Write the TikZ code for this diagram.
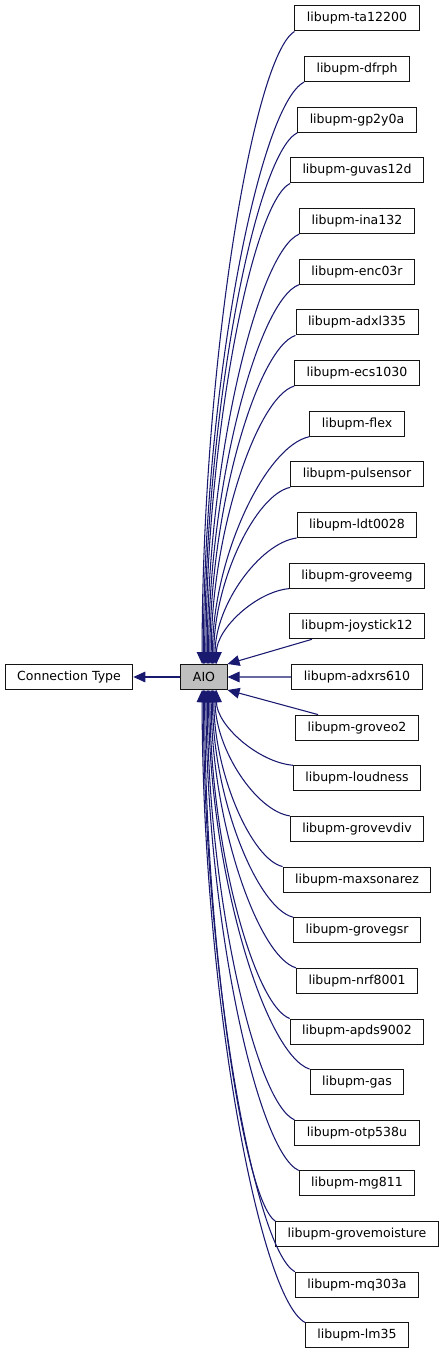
\documentclass[tikz,border=0pt]{standalone}
\usepackage{fontspec}
\setmainfont{DejaVu Sans}
\usepackage{tikz}
\usetikzlibrary{arrows.meta,calc}
\usepackage{xcolor}
\definecolor{depblue}{RGB}{25,25,112}
\definecolor{boxline}{RGB}{20,20,20}
\definecolor{basefill}{RGB}{191,191,191}
\def\libnames{ta12200,dfrph,gp2y0a,guvas12d,ina132,enc03r,adxl335,ecs1030,flex,
  pulsensor,ldt0028,groveemg,joystick12,adxrs610,groveo2,loudness,grovevdiv,
  maxsonarez,grovegsr,nrf8001,apds9002,gas,otp538u,mg811,grovemoisture,mq303a,lm35}
\tikzset{
  cls/.style={draw=boxline,fill=white,line width=.75pt,minimum height=18.75pt,
              inner xsep=9pt,inner ysep=0pt,font=\fontsize{9.4}{11}\selectfont},
  basecls/.style={cls,fill=basefill},
  dep/.style={-{Triangle[length=9pt,width=8pt]},draw=depblue,line width=.8pt},
}
\begin{document}
\begin{tikzpicture}[x=0.75pt,y=-0.75pt]
  \useasboundingbox (0,0) rectangle (443,1355);
  \node[basecls] (aio) at (204,677) {AIO};
  \node[cls] (conntype) at (69,677) {Connection Type};
  \draw[dep] (aio) -- (conntype);
  \foreach \lib [count=\i from 0] in \libnames {
    \node[cls] (\lib) at (357,{18.5+50.65*\i}) {libupm-\lib};
    % above: bend down into the top of AIO
    \ifnum\i<12
      \draw[dep] let \p1=(\lib.south west),
        \p2=($(aio.north)+({15-1.3*(13-\i)},0)$) in
        (\p1) .. controls ({\x1+0.45*(\x2-\x1)},{\y1+0.04*(\y2-\y1)})
        and (\x2,{\y2-0.47*(\y2-\y1)}) .. (\p2);
    \fi
    \ifnum\i=12
      \draw[dep] ($(\lib.south west)+(23,0)$) -- (aio.north east);
    \fi
    \ifnum\i=13
      \draw[dep] (\lib) -- (aio);
    \fi
    \ifnum\i=14
      \draw[dep] ($(\lib.north west)+(23,0)$) -- (aio.south east);
    \fi
    % below: bend up into the bottom of AIO
    \ifnum\i>14
      \draw[dep] let \p1=(\lib.north west),
        \p2=($(aio.south)+({15-1.3*(\i-13)},0)$) in
        (\p1) .. controls ({\x1+0.45*(\x2-\x1)},{\y1+0.04*(\y2-\y1)})
        and (\x2,{\y2-0.47*(\y2-\y1)}) .. (\p2);
    \fi
  }
\end{tikzpicture}
\end{document}
